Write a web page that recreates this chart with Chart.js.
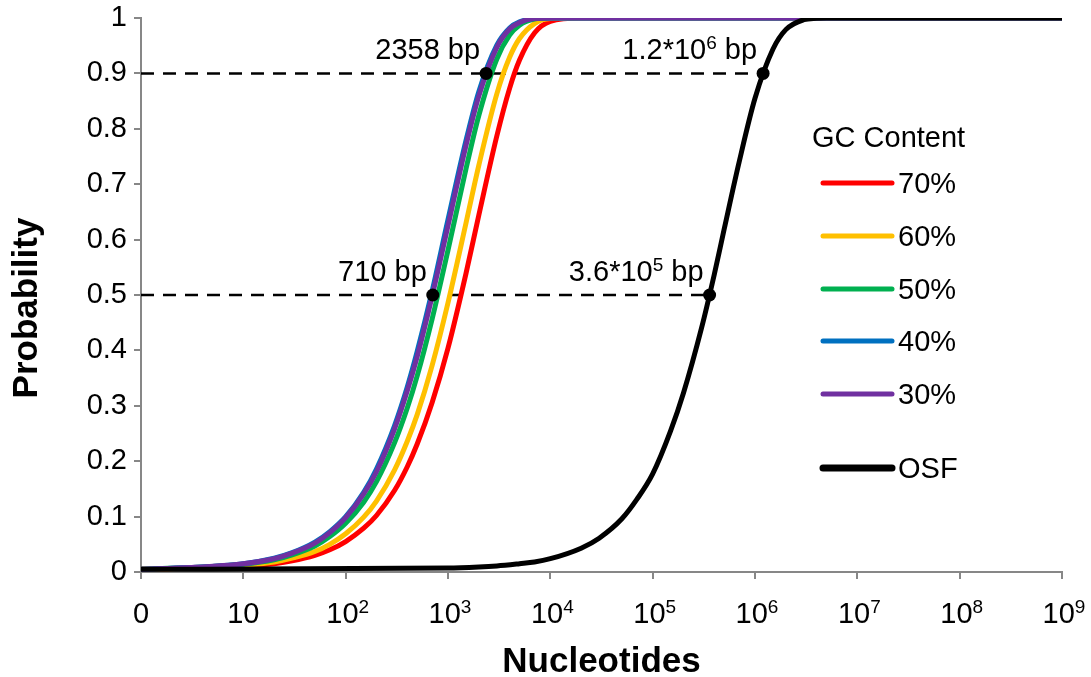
<!DOCTYPE html>
<html>
<head>
<meta charset="utf-8">
<script src="https://cdn.jsdelivr.net/npm/chart.js@4.4.1/dist/chart.umd.min.js"></script>
<style>
  html, body { margin: 0; padding: 0; background: #fff; }
  #wrap { width: 1091px; height: 677px; }
</style>
</head>
<body>
<div id="wrap"><canvas id="myChart"></canvas></div>
<script>
// values
var gcNucleotides = [1, 3, 10, 20, 30, 50, 70, 100, 150, 200, 300, 400, 500, 700,
    1000, 1500, 2000, 3000, 4000, 5000, 7000, 1e4, 2e4, 1e9];
var gc70 = [0.005, 0.007, 0.010, 0.015, 0.020, 0.030, 0.040, 0.055, 0.079, 0.102, 0.147, 0.190, 0.231, 0.306,
    0.404, 0.539, 0.644, 0.787, 0.873, 0.924, 0.973, 0.994, 1, 1];
var gc60 = [0.005, 0.007, 0.012, 0.018, 0.025, 0.037, 0.050, 0.069, 0.099, 0.128, 0.184, 0.236, 0.284, 0.373,
    0.486, 0.630, 0.734, 0.863, 0.929, 0.963, 0.990, 0.999, 1, 1];
var gc50 = [0.005, 0.008, 0.014, 0.022, 0.031, 0.047, 0.064, 0.088, 0.126, 0.163, 0.233, 0.296, 0.354, 0.457,
    0.581, 0.728, 0.824, 0.926, 0.969, 0.987, 0.998, 1, 1, 1];
var gc40 = [0.005, 0.008, 0.015, 0.025, 0.035, 0.054, 0.073, 0.100, 0.144, 0.186, 0.264, 0.334, 0.398, 0.507,
    0.636, 0.779, 0.867, 0.951, 0.982, 0.993, 0.999, 1, 1, 1];
var gc30 = [0.005, 0.008, 0.015, 0.024, 0.034, 0.052, 0.071, 0.098, 0.141, 0.181, 0.258, 0.327, 0.389, 0.498,
    0.625, 0.770, 0.859, 0.947, 0.980, 0.992, 0.999, 1, 1, 1];

var osfNucleotides = [1, 1000, 2000, 3000, 5000, 7000, 1e4, 2e4, 3e4, 5e4, 7e4, 1e5, 1.5e5, 2e5,
    3e5, 4e5, 5e5, 7e5, 1e6, 1.5e6, 2e6, 3e6, 4e6, 5e6, 1e7, 1e9];
var osf = [0.005, 0.007, 0.009, 0.011, 0.015, 0.018, 0.024, 0.043, 0.061, 0.096, 0.131, 0.177, 0.255, 0.323,
    0.440, 0.537, 0.619, 0.740, 0.855, 0.944, 0.979, 0.997, 0.9995, 1, 1, 1];

var seriesLabels = ['70%', '60%', '50%', '40%', '30%', 'OSF'];

var markerX = [710, 2358, 3.6e5, 1.2e6];
var markerY = [0.5, 0.9, 0.5, 0.9];
var markerLabels = ['710 bp', '2358 bp', '3.6*10\u2075 bp', '1.2*10\u2076 bp'];

var guideY = [0.5, 0.9];
var guideEnd = [3.6e5, 1.2e6];

var xTicks = [1, 10, 1e2, 1e3, 1e4, 1e5, 1e6, 1e7, 1e8, 1e9];
var xTickLabels = ['0', '10', '10\u00b2', '10\u00b3', '10\u2074', '10\u2075', '10\u2076', '10\u2077', '10\u2078', '10\u2079'];
var yTicks = [0, 0.1, 0.2, 0.3, 0.4, 0.5, 0.6, 0.7, 0.8, 0.9, 1];
var yTickLabels = ['0', '0.1', '0.2', '0.3', '0.4', '0.5', '0.6', '0.7', '0.8', '0.9', '1'];

var FONT = "'Liberation Sans', Arial, sans-serif";
var AXIS_GRAY = '#878787';
var SUP = '\u2070\u00b9\u00b2\u00b3\u2074\u2075\u2076\u2077\u2078\u2079';

function pts(xs, ys) {
    return xs.map(function (x, i) { return { x: x, y: ys[i] }; });
}

function curve(label, xs, ys, color, order) {
    return {
        label: label,
        data: pts(xs, ys),
        borderColor: color,
        backgroundColor: color,
        borderWidth: 5,
        pointRadius: 0,
        cubicInterpolationMode: 'monotone',
        clip: 0,
        order: order
    };
}

function guide(i) {
    return {
        label: 'guide' + i,
        data: [{ x: 1, y: guideY[i] }, { x: guideEnd[i], y: guideY[i] }],
        borderColor: '#000',
        borderWidth: 2.5,
        borderDash: [13, 9],
        pointRadius: 0,
        order: 10
    };
}

// split "10⁵" into normal and raised runs
function richRuns(text) {
    var runs = [];
    for (var ch of text) {
        var k = SUP.indexOf(ch);
        var sup = k >= 0;
        var c = sup ? String(k) : ch;
        if (runs.length && runs[runs.length - 1].sup === sup) runs[runs.length - 1].t += c;
        else runs.push({ t: c, sup: sup });
    }
    return runs;
}

function drawRich(ctx, text, x, y, align, size) {
    var runs = richRuns(text);
    var widths = runs.map(function (r) {
        ctx.font = (r.sup ? Math.round(size * 0.64) : size) + 'px ' + FONT;
        return ctx.measureText(r.t).width;
    });
    var total = widths.reduce(function (a, b) { return a + b; }, 0);
    var x0 = align === 'right' ? x - total : align === 'center' ? x - total / 2 : x;
    ctx.textAlign = 'left';
    ctx.textBaseline = 'alphabetic';
    runs.forEach(function (r, i) {
        ctx.font = (r.sup ? Math.round(size * 0.64) : size) + 'px ' + FONT;
        ctx.fillText(r.t, x0, r.sup ? y - size * 0.36 : y);
        x0 += widths[i];
    });
}

var datasets = [
    curve(seriesLabels[0], gcNucleotides, gc70, '#ff0000', 6),
    curve(seriesLabels[1], gcNucleotides, gc60, '#ffc000', 5),
    curve(seriesLabels[2], gcNucleotides, gc50, '#00b050', 4),
    curve(seriesLabels[3], gcNucleotides, gc40, '#0070c0', 3),
    curve(seriesLabels[4], gcNucleotides, gc30, '#7030a0', 2),
    curve(seriesLabels[5], osfNucleotides, osf, '#000000', 1),
    guide(0),
    guide(1),
    {
        label: 'markers',
        data: pts(markerX, markerY),
        showLine: false,
        pointRadius: 6.5,
        pointBackgroundColor: '#000',
        pointBorderWidth: 0,
        order: 0
    }
];
var MARKERS = 8;

var overlay = {
    id: 'overlay',
    afterDatasetsDraw: function (chart) {
        var ctx = chart.ctx;
        var meta = chart.getDatasetMeta(MARKERS);
        ctx.save();
        ctx.fillStyle = '#000';
        meta.data.forEach(function (pt, i) {
            drawRich(ctx, markerLabels[i], pt.x - 6, pt.y - 14, 'right', 29);
        });
        ctx.restore();
    },
    afterDraw: function (chart) {
        var ctx = chart.ctx;
        var xs = chart.scales.x;
        ctx.save();
        ctx.fillStyle = '#000';

        // x tick labels with raised exponents
        xTicks.forEach(function (v, i) {
            drawRich(ctx, xTickLabels[i], xs.getPixelForValue(v) + (i > 1 ? 2 : 0), 623, 'center', 29);
        });

        // y axis title
        ctx.save();
        ctx.translate(27, 308);
        ctx.rotate(-Math.PI / 2);
        ctx.font = 'bold 35px ' + FONT;
        ctx.textAlign = 'center';
        ctx.textBaseline = 'middle';
        ctx.fillText('Probability', 0, 0);
        ctx.restore();

        // legend
        var rows = [183, 236, 289, 341, 394, 468];
        ctx.font = '29px ' + FONT;
        ctx.textAlign = 'left';
        ctx.textBaseline = 'alphabetic';
        ctx.fillText('GC Content', 812, 147);
        for (var i = 0; i < 6; i++) {
            var ds = chart.data.datasets[i];
            var y = rows[i];
            ctx.beginPath();
            ctx.strokeStyle = ds.borderColor;
            ctx.lineWidth = i == 5 ? 7 : 5;
            ctx.lineCap = 'round';
            ctx.moveTo(823, y);
            ctx.lineTo(892, y);
            ctx.stroke();
            ctx.font = '29px ' + FONT;
            ctx.fillText(ds.label, 898, y + 10);
        }
        ctx.restore();
    }
};

Chart.defaults.font.family = FONT;
Chart.defaults.color = '#000';

var ctx = document.getElementById('myChart').getContext('2d');
var myChart = new Chart(ctx, {
    type: 'line',
    data: { datasets: datasets },
    plugins: [overlay],
    options: {
        responsive: true,
        maintainAspectRatio: false,
        animation: false,
        devicePixelRatio: 1,
        layout: { autoPadding: false, padding: { left: 0, right: 29, top: 18, bottom: 0 } },
        plugins: {
            legend: { display: false },
            tooltip: { enabled: false }
        },
        scales: {
            x: {
                type: 'logarithmic',
                min: 1,
                max: 1e9,
                afterBuildTicks: function (scale) {
                    scale.ticks = xTicks.map(function (v) { return { value: v }; });
                },
                afterFit: function (scale) {
                    scale.height = 105;
                    scale.paddingLeft = 0;
                    scale.paddingRight = 0;
                },
                ticks: {
                    display: false,
                    autoSkip: false,
                    maxRotation: 0
                },
                grid: { drawOnChartArea: false, tickLength: 7, color: AXIS_GRAY, lineWidth: 2 },
                border: { color: AXIS_GRAY, width: 2 },
                title: {
                    display: true,
                    text: 'Nucleotides',
                    font: { size: 35, weight: 'bold', lineHeight: 1 },
                    padding: { top: 0, bottom: -3 }
                }
            },
            y: {
                type: 'linear',
                min: 0,
                max: 1,
                afterBuildTicks: function (scale) {
                    scale.ticks = yTicks.map(function (v) { return { value: v }; });
                },
                afterFit: function (scale) {
                    scale.width = 141;
                    scale.paddingTop = 0;
                    scale.paddingBottom = 0;
                },
                ticks: {
                    padding: 7,
                    font: { size: 29 },
                    callback: function (v, i) { return yTickLabels[i]; }
                },
                grid: { drawOnChartArea: false, tickLength: 7, color: AXIS_GRAY, lineWidth: 2 },
                border: { color: AXIS_GRAY, width: 2 },
                title: { display: false, text: 'Probability' }
            }
        }
    }
});
</script>
</body>
</html>
